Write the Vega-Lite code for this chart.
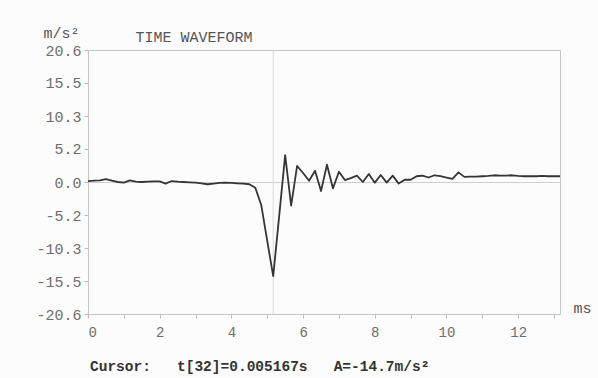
{
  "$schema": "https://vega.github.io/schema/vega-lite/v6.json",
  "width": 472,
  "height": 264,
  "autosize": {"type": "none"},
  "padding": {"left": 88, "top": 50, "right": 38, "bottom": 64},
  "background": "#fcfcfc",
  "config": {
    "view": {"stroke": "#c4c4c4", "strokeWidth": 1},
    "font": "Liberation Mono",
    "axis": {
      "labelFont": "Liberation Mono",
      "labelColor": "#6e6e6e",
      "tickColor": "#bdbdbd",
      "titleFont": "Liberation Mono",
      "titleFontSize": 15,
      "titleFontWeight": "normal",
      "titleColor": "#555555"
    }
  },
  "title": {
    "text": "Cursor:\u00a0\u00a0\u00a0t[32]=0.005167s\u00a0\u00a0\u00a0A=-14.7m/s²",
    "orient": "bottom",
    "anchor": "start",
    "frame": "group",
    "font": "Liberation Mono",
    "fontSize": 14.5,
    "fontWeight": "bold",
    "color": "#333333",
    "offset": 21,
    "dx": 2
  },
  "datasets": {
    "cursor": [{"t": 5.1667}],
    "wave": [
      {"t": 0, "a": 0.15}, {"t": 0.1667, "a": 0.2}, {"t": 0.3333, "a": 0.25}, {"t": 0.5, "a": 0.45},
      {"t": 0.6667, "a": 0.2}, {"t": 0.8333, "a": 0.0}, {"t": 1, "a": -0.1}, {"t": 1.1667, "a": 0.25},
      {"t": 1.3333, "a": 0.05}, {"t": 1.5, "a": 0.0}, {"t": 1.6667, "a": 0.05}, {"t": 1.8333, "a": 0.1},
      {"t": 2, "a": 0.1}, {"t": 2.1667, "a": -0.25}, {"t": 2.3333, "a": 0.15}, {"t": 2.5, "a": 0.05},
      {"t": 2.6667, "a": 0.0}, {"t": 2.8333, "a": -0.05}, {"t": 3, "a": -0.1}, {"t": 3.1667, "a": -0.2},
      {"t": 3.3333, "a": -0.35}, {"t": 3.5, "a": -0.25}, {"t": 3.6667, "a": -0.15}, {"t": 3.8333, "a": -0.1},
      {"t": 4, "a": -0.15}, {"t": 4.1667, "a": -0.2}, {"t": 4.3333, "a": -0.25}, {"t": 4.5, "a": -0.35},
      {"t": 4.6667, "a": -0.9}, {"t": 4.8333, "a": -3.6}, {"t": 5, "a": -9.2}, {"t": 5.1667, "a": -14.7},
      {"t": 5.3333, "a": -5.3}, {"t": 5.5, "a": 4.2}, {"t": 5.6667, "a": -3.7}, {"t": 5.8333, "a": 2.5},
      {"t": 6, "a": 1.4}, {"t": 6.1667, "a": 0.2}, {"t": 6.3333, "a": 1.75}, {"t": 6.5, "a": -1.4},
      {"t": 6.6667, "a": 2.7}, {"t": 6.8333, "a": -1.0}, {"t": 7, "a": 1.6}, {"t": 7.1667, "a": 0.3},
      {"t": 7.3333, "a": 0.6}, {"t": 7.5, "a": 1.0}, {"t": 7.6667, "a": 0.0}, {"t": 7.8333, "a": 1.25},
      {"t": 8, "a": -0.1}, {"t": 8.1667, "a": 1.1}, {"t": 8.3333, "a": -0.1}, {"t": 8.5, "a": 1.0},
      {"t": 8.6667, "a": -0.25}, {"t": 8.8333, "a": 0.35}, {"t": 9, "a": 0.35}, {"t": 9.1667, "a": 0.9},
      {"t": 9.3333, "a": 1.0}, {"t": 9.5, "a": 0.7}, {"t": 9.6667, "a": 1.05}, {"t": 9.8333, "a": 0.9},
      {"t": 10, "a": 0.7}, {"t": 10.1667, "a": 0.5}, {"t": 10.3333, "a": 1.5}, {"t": 10.5, "a": 0.8},
      {"t": 10.6667, "a": 0.85}, {"t": 10.8333, "a": 0.85}, {"t": 11, "a": 0.9}, {"t": 11.1667, "a": 0.95},
      {"t": 11.3333, "a": 1.05}, {"t": 11.5, "a": 1.0}, {"t": 11.6667, "a": 1.0}, {"t": 11.8333, "a": 1.05},
      {"t": 12, "a": 0.95}, {"t": 12.1667, "a": 0.9}, {"t": 12.3333, "a": 0.9}, {"t": 12.5, "a": 0.9},
      {"t": 12.6667, "a": 0.95}, {"t": 12.8333, "a": 0.9}, {"t": 13, "a": 0.9}, {"t": 13.1667, "a": 0.9}
    ]
  },
  "layer": [
    {
      "data": {"name": "cursor"},
      "mark": {"type": "rule", "color": "#dadada", "strokeWidth": 1},
      "encoding": {
        "x": {
          "field": "t",
          "type": "quantitative",
          "scale": {"domain": [0, 13.1667], "nice": false, "zero": false},
          "axis": {
            "orient": "top",
            "title": "TIME WAVEFORM",
            "labels": false,
            "ticks": false,
            "domain": false,
            "grid": false,
            "titleX": 47,
            "titleY": -14,
            "titleAnchor": "start",
            "titleAlign": "left",
            "titleBaseline": "middle",
            "titleFontSize": 15
          }
        }
      }
    },
    {
      "data": {"name": "wave"},
      "mark": {"type": "line", "color": "#353535", "strokeWidth": 1.8, "strokeJoin": "round"},
      "encoding": {
        "x": {
          "field": "t",
          "type": "quantitative",
          "scale": {"domain": [0, 13.1667], "nice": false, "zero": false},
          "axis": {
            "orient": "bottom",
            "values": [0, 1, 2, 3, 4, 5, 6, 7, 8, 9, 10, 11, 12, 13],
            "labelExpr": "datum.value % 2 == 0 ? datum.label : ''",
            "labelFontSize": 14,
            "labelPadding": 7,
            "tickSize": 4,
            "domain": false,
            "grid": false,
            "title": "ms",
            "titleX": 485,
            "titleY": -7,
            "titleAnchor": "start",
            "titleAlign": "left",
            "titleBaseline": "middle",
            "titleFontSize": 15
          }
        },
        "y": {
          "field": "a",
          "type": "quantitative",
          "scale": {"domain": [-20.6, 20.6], "nice": false},
          "axis": {
            "values": [-20.6, -15.5, -10.3, -5.2, 0, 5.2, 10.3, 15.5, 20.6],
            "labelExpr": "replace(format(datum.value, '.1f'), '\u2212', '-')",
            "labelFontSize": 15,
            "labelPadding": 3,
            "tickSize": 4,
            "domain": false,
            "grid": true,
            "gridColor": "#cfcfcf",
            "gridOpacity": {"condition": {"test": "datum.value == 0", "value": 1}, "value": 0},
            "title": "m/s²",
            "titleAngle": 0,
            "titleX": -45,
            "titleY": -18,
            "titleAlign": "left",
            "titleBaseline": "middle",
            "titleFontSize": 15
          }
        }
      }
    }
  ],
  "resolve": {"axis": {"x": "independent"}}
}
